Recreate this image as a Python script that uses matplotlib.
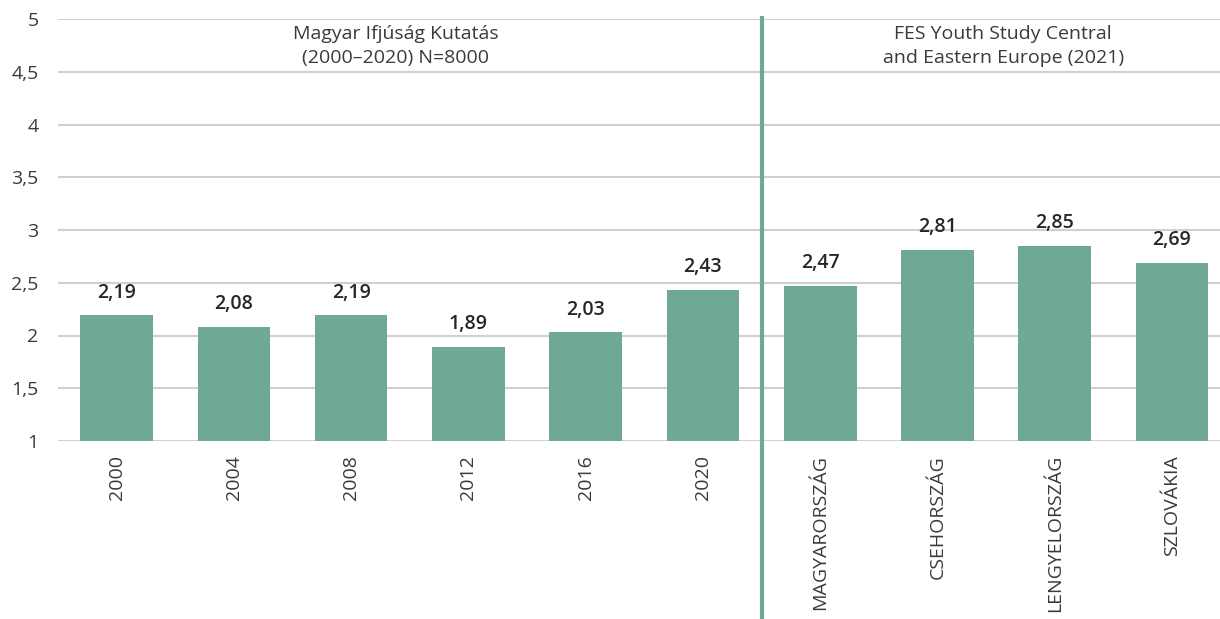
import matplotlib.pyplot as plt
from matplotlib.lines import Line2D

plt.rcParams['font.family'] = ['Open Sans', 'DejaVu Sans']

categories = ['2000', '2004', '2008', '2012', '2016', '2020',
              'MAGYARORSZÁG', 'CSEHORSZÁG', 'LENGYELORSZÁG', 'SZLOVÁKIA']
values = [2.19, 2.08, 2.19, 1.89, 2.03, 2.43, 2.47, 2.81, 2.85, 2.69]
y_ticks = [1, 1.5, 2, 2.5, 3, 3.5, 4, 4.5, 5]
y_labels = ['1', '1,5', '2', '2,5', '3', '3,5', '4', '4,5', '5']
group_left = 'Magyar Ifjúság Kutatás\n(2000–2020) N=8000'
group_right = 'FES Youth Study Central\nand Eastern Europe (2021)'

green = '#6fa996'
text_col = '#3a3a3a'

fig = plt.figure(figsize=(12.2, 6.19), dpi=100)
ax = fig.add_axes([58 / 1220, 1 - 441 / 619, 1162 / 1220, 422 / 619])

x = list(range(len(categories)))
ax.bar(x, [v - 1 for v in values], bottom=1, width=0.62, color=green, zorder=3)

for xi, v in zip(x, values):
    ax.text(xi, v + 0.12, f'{v:.2f}'.replace('.', ','), ha='center', va='bottom',
            fontsize=14, color='#262626', fontweight='semibold', zorder=4)

ax.set_ylim(1, 5)
ax.set_xlim(-0.5, 9.41)
ax.set_yticks(y_ticks)
ax.set_yticklabels(y_labels, fontsize=14, color=text_col)
ax.set_xticks(x)
ax.set_xticklabels(categories, rotation=90, fontsize=14, color=text_col)
ax.tick_params(axis='both', length=0)
ax.tick_params(axis='y', pad=14)
ax.tick_params(axis='x', pad=10)

ax.yaxis.grid(True, color='#d0d0d0', linewidth=1.5, zorder=0)
for s in ax.spines.values():
    s.set_visible(False)

# separator between the two data sources, runs past the axes bottom
sep = Line2D([5.5, 5.5], [5.01, -0.7], color=green, linewidth=3,
             transform=ax.transData, clip_on=False, zorder=5)
ax.add_line(sep)

ax.text(2.38, 4.94, group_left, ha='center', va='top', fontsize=14,
        color=text_col, linespacing=1.4)
ax.text(7.56, 4.94, group_right, ha='center', va='top', fontsize=14,
        color=text_col, linespacing=1.4)

fig.savefig('out.png', dpi=100)
